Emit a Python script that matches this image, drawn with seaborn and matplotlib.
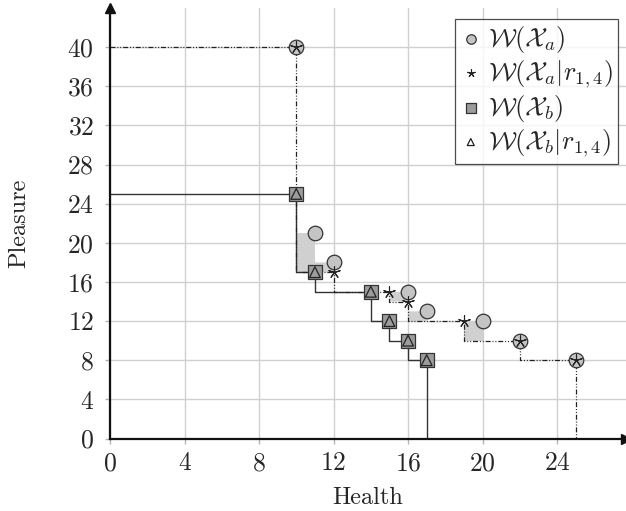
import matplotlib
matplotlib.use("Agg")
import matplotlib.pyplot as plt
import seaborn as sns
import pandas as pd
import numpy as np

# W(X_a): circles
a_health = [10, 11, 12, 16, 17, 20, 22, 25]
a_pleasure = [40, 21, 18, 15, 13, 12, 10, 8]
# W(X_a | r_{1,4}): stars
ar_health = [10, 12, 15, 16, 19, 22, 25]
ar_pleasure = [40, 17, 15, 14, 12, 10, 8]
# W(X_b): squares (and W(X_b | r_{1,4}) triangles on the same points)
b_health = [10, 11, 14, 15, 16, 17]
b_pleasure = [25, 17, 15, 12, 10, 8]
br_health = [10, 11, 14, 15, 16, 17]
br_pleasure = [25, 17, 15, 12, 10, 8]

x_ticks = [0, 4, 8, 12, 16, 20, 24]
y_ticks = [0, 4, 8, 12, 16, 20, 24, 28, 32, 36, 40]

sns.set_theme(style="white")
plt.rcParams["font.family"] = "serif"
plt.rcParams["font.serif"] = ["cmr10", "DejaVu Serif"]
plt.rcParams["mathtext.fontset"] = "cm"
plt.rcParams["axes.formatter.use_mathtext"] = True


def staircase(xs, ys):
    # dominated-region outline: start at x=0, finish down at y=0
    return [0] + list(xs) + [xs[-1]], [ys[0]] + list(ys) + [0]


def step_val(xs, ys, g):
    out = np.zeros_like(g)
    for i, gx in enumerate(g):
        v = 0.0
        for xx, yy in zip(xs, ys):
            if gx <= xx:
                v = yy
                break
        out[i] = v
    return out


fig = plt.figure(figsize=(6.26, 5.11), dpi=100)
ax = fig.add_axes([110 / 626, 72.5 / 511, 516 / 626, 430.5 / 511])

# grey area between the two W(X_a) fronts
grid = np.linspace(0, 27.7, 2771)
ya = step_val(a_health, a_pleasure, grid)
yar = step_val(ar_health, ar_pleasure, grid)
ax.fill_between(grid, yar, ya, where=ya > yar, color="#d0d0d0", lw=0,
                zorder=1)

sx, sy = staircase(b_health, b_pleasure)
ax.step(sx, sy, where="pre", color="#333333", lw=1.0, zorder=2)
sx, sy = staircase(ar_health, ar_pleasure)
ax.step(sx, sy, where="pre", color="#222222", lw=0.9, zorder=2,
        dashes=[4, 1.5, 0.8, 1.5, 0.8, 1.5])

da = pd.DataFrame({"Health": a_health, "Pleasure": a_pleasure})
dar = pd.DataFrame({"Health": ar_health, "Pleasure": ar_pleasure})
db = pd.DataFrame({"Health": b_health, "Pleasure": b_pleasure})
dbr = pd.DataFrame({"Health": br_health, "Pleasure": br_pleasure})

sns.scatterplot(data=da, x="Health", y="Pleasure", ax=ax, marker="o", s=110,
                color="#c4c4c4", edgecolor="#333333", linewidth=0.9, zorder=3,
                label=r"$\mathcal{W}(\mathcal{X}_a)$")
sns.scatterplot(data=dar, x="Health", y="Pleasure", ax=ax, marker=(5, 2), s=70,
                color="#222222", edgecolor="#222222", linewidth=0.8, zorder=4,
                label=r"$\mathcal{W}(\mathcal{X}_a|r_{1,4})$")
sns.scatterplot(data=db, x="Health", y="Pleasure", ax=ax, marker="s", s=110,
                color="#9c9c9c", edgecolor="#333333", linewidth=0.9, zorder=3,
                label=r"$\mathcal{W}(\mathcal{X}_b)$")
sns.scatterplot(data=dbr, x="Health", y="Pleasure", ax=ax, marker="^", s=60,
                facecolor="none", edgecolor="#222222", linewidth=0.9, zorder=4,
                label=r"$\mathcal{W}(\mathcal{X}_b|r_{1,4})$")

ax.set_xlim(0, 27.7)
ax.set_ylim(0, 44.0)
ax.set_xticks(x_ticks)
ax.set_yticks(y_ticks)
ax.grid(True, color="#d0d0d0", lw=1.0)
ax.set_axisbelow(True)
for side in ["top", "right"]:
    ax.spines[side].set_visible(False)
for side in ["left", "bottom"]:
    ax.spines[side].set_color("#111111")
    ax.spines[side].set_linewidth(1.6)
ax.tick_params(axis="both", which="both", direction="out", length=3.5,
               width=1, color="#b5b5b5", labelsize=18.5,
               left=True, bottom=True)
ax.tick_params(axis="x", pad=6)
ax.tick_params(axis="y", pad=8)
ax.plot(1, 0, ">", color="#111111", ms=7, transform=ax.transAxes, clip_on=False)
ax.plot(0, 1, "^", color="#111111", ms=7, transform=ax.transAxes, clip_on=False)

ax.set_xlabel("Health", fontsize=17.5)
ax.set_ylabel("Pleasure", fontsize=17.5)
ax.xaxis.set_label_coords(0.5, -0.113)
ax.yaxis.set_label_coords(-0.155, 0.5)

leg = ax.legend(loc="upper right", bbox_to_anchor=(0.985, 0.975), fontsize=19,
                frameon=True, fancybox=False, edgecolor="#222222",
                handletextpad=0.25, borderpad=0.2, labelspacing=0.13,
                handlelength=0.8, markerscale=0.65, borderaxespad=0)
leg.get_frame().set_linewidth(0.9)

fig.savefig("out.png", dpi=100)
